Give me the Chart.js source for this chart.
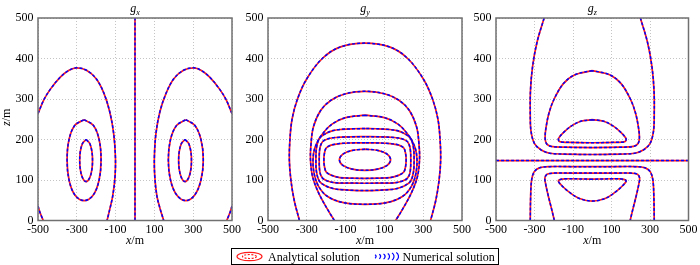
<!DOCTYPE html>
<html>
<head>
<meta charset="utf-8">
<script src="https://cdn.jsdelivr.net/npm/chart.js@4.4.0/dist/chart.umd.min.js"></script>
<style>
  html, body { margin: 0; padding: 0; background: #fff; }
  #wrap { position: relative; width: 700px; height: 265px; }
  #wrap canvas { position: absolute; left: 0; top: 0; }
</style>
</head>
<body>
<div id="wrap">
  <canvas id="chart_gx" width="700" height="265"></canvas>
  <canvas id="chart_gy" width="700" height="265"></canvas>
  <canvas id="chart_gz" width="700" height="265"></canvas>
</div>
<script>
// tick values and labels
var xTicks = [-500, -300, -100, 100, 300, 500];
var zTicks = [0, 100, 200, 300, 400, 500];
var panelSubs = ['x', 'y', 'z'];
var legendLabels = ['Analytical solution', 'Numerical solution'];

// gx contours, [x, z]
var gxCenterLine = [[0, 0], [0, 500]];
var gxLeftOuter = [[-500, 264], [-470, 298], [-435, 325], [-385, 354], [-340, 371], [-300, 377], [-250, 371], [-200, 350], [-160, 314], [-130, 268], [-110, 215], [-101, 157], [-103, 108], [-115, 60], [-130, 28], [-144, 0]];
var gxLeftMiddle = [[-262, 249], [-215, 235], [-185, 200], [-175, 150], [-185, 100], [-215, 63], [-262, 49], [-310, 63], [-340, 100], [-350, 150], [-340, 200], [-310, 235], [-262, 249]];
var gxLeftInner = [[-252, 200], [-233, 190], [-222, 170], [-219, 148], [-222, 126], [-233, 106], [-252, 96], [-271, 106], [-282, 126], [-285, 148], [-282, 170], [-271, 190], [-252, 200]];
var gxRightOuter = [[500, 264], [470, 298], [435, 325], [385, 354], [340, 371], [303, 377], [250, 371], [200, 350], [160, 314], [128, 268], [108, 215], [100, 157], [102, 108], [113, 60], [130, 28], [148, 0]];
var gxRightMiddle = [[262, 249], [308, 235], [340, 200], [352, 150], [340, 100], [308, 63], [262, 49], [215, 63], [183, 100], [172, 150], [183, 200], [215, 235], [262, 249]];
var gxRightInner = [[258, 200], [277, 190], [288, 170], [291, 148], [288, 126], [277, 106], [258, 96], [239, 106], [228, 126], [225, 148], [228, 170], [239, 190], [258, 200]];
var gxCornerLeft = [[-500, 36], [-490, 20], [-478, 6], [-473, 0]];
var gxCornerRight = [[500, 36], [490, 20], [478, 6], [473, 0]];

// gy contours
var gyOuter = [[-338, 0], [-365, 50], [-382, 100], [-390, 150], [-387, 200], [-376, 250], [-348, 300], [-300, 350], [-220, 400], [-130, 428], [0, 438], [130, 428], [220, 400], [300, 350], [348, 300], [376, 250], [387, 200], [390, 150], [382, 100], [365, 50], [338, 0]];
var gySecond = [[-158, 0], [-190, 25], [-238, 67], [-270, 108], [-281, 150], [-278, 190], [-266, 231], [-228, 272], [-175, 297], [-100, 313], [0, 319], [100, 313], [175, 297], [228, 272], [266, 231], [278, 190], [281, 150], [270, 108], [238, 67], [190, 25], [158, 0]];
var gyRingE = [[0, 260], [-100, 254], [-170, 238], [-225, 210], [-258, 180], [-268, 150], [-262, 115], [-240, 85], [-195, 60], [-110, 44], [0, 40], [110, 44], [195, 60], [240, 85], [262, 115], [268, 150], [258, 180], [225, 210], [170, 238], [100, 254], [0, 260]];
var gyRingD = [[0, 227], [-60, 226.5], [-120, 225], [-165, 222], [-205, 214], [-235, 203], [-250, 180], [-253, 150], [-250, 120], [-235, 97], [-205, 86], [-165, 79], [-120, 76], [-60, 74.5], [0, 74], [60, 74.5], [120, 76], [165, 79], [205, 86], [235, 97], [250, 120], [253, 150], [250, 180], [235, 203], [205, 214], [165, 222], [120, 225], [60, 226.5], [0, 227]];
var gyRingC = [[0, 207], [-75, 206.5], [-150, 205], [-190, 202], [-218, 195], [-232, 180], [-236, 150], [-232, 118], [-218, 104], [-190, 97], [-150, 93], [-75, 92.5], [0, 92], [75, 92.5], [150, 93], [190, 97], [218, 104], [232, 118], [236, 150], [232, 180], [218, 195], [190, 202], [150, 205], [75, 206.5], [0, 207]];
var gyRingB = [[0, 192], [-65, 191.5], [-130, 190], [-175, 186], [-200, 179], [-209, 166], [-212, 150], [-209, 133], [-200, 120], [-175, 112], [-130, 106], [-65, 104.5], [0, 104], [65, 104.5], [130, 106], [175, 112], [200, 120], [209, 133], [212, 150], [209, 166], [200, 179], [175, 186], [130, 190], [65, 191.5], [0, 192]];
var gyRingA = [[0, 176], [-66, 173], [-114, 164], [-132, 150], [-114, 136], [-66, 127], [0, 124], [66, 127], [114, 136], [132, 150], [114, 164], [66, 173], [0, 176]];

// gz contours
var gzLine = [[-500, 148], [500, 148]];
var gzUpperOuter = [[-250, 500], [-287, 440], [-310, 380], [-321, 320], [-322, 260], [-318, 220], [-300, 190], [-265, 174], [-220, 166], [-150, 164], [0, 163], [150, 164], [220, 166], [265, 174], [300, 190], [318, 220], [322, 260], [321, 320], [310, 380], [287, 440], [250, 500]];
var gzUpperMiddle = [[0, 370], [-90, 360], [-150, 338], [-198, 300], [-225, 265], [-240, 230], [-245, 205], [-238, 190], [-215, 183], [-150, 181], [0, 180], [150, 181], [215, 183], [238, 190], [245, 205], [240, 230], [225, 265], [198, 300], [150, 338], [90, 360], [0, 370]];
var gzUpperInner = [[0, 249], [-60, 245], [-110, 233], [-150, 217], [-172, 205], [-176, 199], [-165, 194], [-120, 193], [0, 192], [120, 193], [165, 194], [176, 199], [172, 205], [150, 217], [110, 233], [60, 245], [0, 249]];
var gzLowerOuter = [[-322, 0], [-320, 60], [-315, 100], [-302, 120], [-275, 130], [-220, 133], [-110, 133], [0, 133], [110, 133], [220, 133], [275, 130], [302, 120], [315, 100], [320, 60], [322, 0]];
var gzLowerMiddle = [[-197, 0], [-212, 30], [-228, 60], [-242, 90], [-246, 105], [-235, 114], [-200, 117], [-100, 117], [0, 117], [100, 117], [200, 117], [235, 114], [246, 105], [242, 90], [228, 60], [212, 30], [197, 0]];
var gzLowerInner = [[0, 102], [-140, 103], [-168, 101], [-176, 97], [-160, 87], [-125, 72], [-70, 55], [0, 48], [70, 55], [125, 72], [160, 87], [176, 97], [168, 101], [140, 103], [0, 102]];

var gxContours = [gxCenterLine, gxLeftOuter, gxLeftMiddle, gxLeftInner, gxRightOuter, gxRightMiddle, gxRightInner, gxCornerLeft, gxCornerRight];
var gyContours = [gyOuter, gySecond, gyRingE, gyRingD, gyRingC, gyRingB, gyRingA];
var gzContours = [gzLine, gzUpperOuter, gzUpperMiddle, gzUpperInner, gzLowerOuter, gzLowerMiddle, gzLowerInner];

var serif = "'Liberation Serif', 'Times New Roman', serif";
var analyticColor = '#ff1a1a';
var numericColor = '#0000ff';

function toPoints(arr) {
    return arr.map(function (p) { return { x: p[0], y: p[1] }; });
}

// first dataset is drawn on top, so the blue dashes go first
function contourSets(contours) {
    var sets = [];
    contours.forEach(function (c) {
        sets.push({ label: legendLabels[1], data: toPoints(c), borderColor: numericColor, borderWidth: 1.5,
            borderDash: [3, 2], showLine: true, pointRadius: 0, tension: 0.35, fill: false });
    });
    contours.forEach(function (c) {
        sets.push({ label: legendLabels[0], data: toPoints(c), borderColor: analyticColor, borderWidth: 1.7,
            showLine: true, pointRadius: 0, tension: 0.35, fill: false });
    });
    return sets;
}

function drawRich(ctx, runs, cx, cy) {
    var total = 0;
    runs.forEach(function (r) { ctx.font = r.font; r.w = ctx.measureText(r.text).width; total += r.w; });
    var x = cx - total / 2;
    ctx.textAlign = 'left';
    ctx.textBaseline = 'alphabetic';
    runs.forEach(function (r) { ctx.font = r.font; ctx.fillText(r.text, x, cy + (r.dy || 0)); x += r.w; });
}

function framePlugin(sub, withZLabel) {
    return {
        id: 'frame',
        afterDatasetsDraw: function (chart) {
            var ctx = chart.ctx, a = chart.chartArea;
            ctx.save();
            ctx.strokeStyle = '#707070';
            ctx.lineWidth = 1.5;
            ctx.strokeRect(a.left, a.top, a.right - a.left, a.bottom - a.top);
            ctx.fillStyle = '#000';
            var cx = (a.left + a.right) / 2;
            drawRich(ctx, [{ text: 'g', font: 'italic 12px ' + serif }, { text: sub, font: 'italic 8px ' + serif, dy: 2.5 }], cx, 12);
            drawRich(ctx, [{ text: 'x', font: 'italic 12px ' + serif }, { text: '/m', font: '12px ' + serif }], cx, 243.5);
            if (withZLabel) {
                ctx.translate(9.5, (a.top + a.bottom) / 2 - 2);
                ctx.rotate(-Math.PI / 2);
                drawRich(ctx, [{ text: 'z', font: 'italic 12px ' + serif }, { text: '/m', font: '12px ' + serif }], 0, 0);
            }
            ctx.restore();
        }
    };
}

var legendPlugin = {
    id: 'contourLegend',
    afterDraw: function (chart) {
        var ctx = chart.ctx;
        ctx.save();
        ctx.strokeStyle = '#000';
        ctx.lineWidth = 1;
        ctx.strokeRect(231.5, 248.5, 267, 16);
        // red icon: small nested ellipses
        ctx.strokeStyle = analyticColor;
        ctx.lineWidth = 1.2;
        ctx.beginPath(); ctx.ellipse(249.5, 256.5, 12.5, 4.2, 0, 0, Math.PI * 2); ctx.stroke();
        ctx.setLineDash([2, 1.5]);
        ctx.beginPath(); ctx.ellipse(249.5, 256.5, 7, 2, 0, 0, Math.PI * 2); ctx.stroke();
        ctx.setLineDash([]);
        // blue icon: row of arcs
        ctx.strokeStyle = numericColor;
        for (var i = 0; i < 6; i++) {
            ctx.beginPath();
            ctx.arc(374 + i * 4, 256.5, 2 + i * 0.5, -Math.PI / 3, Math.PI / 3);
            ctx.stroke();
        }
        ctx.fillStyle = '#000';
        ctx.font = '12px ' + serif;
        ctx.textAlign = 'left';
        ctx.textBaseline = 'alphabetic';
        ctx.fillText(legendLabels[0], 268, 260.5);
        ctx.fillText(legendLabels[1], 402.5, 260.5);
        ctx.restore();
    }
};

function makePanel(id, contours, sub, left, right, extra) {
    return new Chart(document.getElementById(id), {
        type: 'scatter',
        data: { datasets: contourSets(contours) },
        options: {
            animation: false,
            responsive: false,
            devicePixelRatio: 1,
            layout: { padding: { left: left - 38, right: 700 - right, top: 18, bottom: 0 } },
            plugins: { legend: { display: false }, tooltip: { enabled: false } },
            scales: {
                x: {
                    type: 'linear', min: -500, max: 500,
                    afterBuildTicks: function (s) { s.ticks = xTicks.map(function (v) { return { value: v }; }); },
                    afterFit: function (s) { s.height = 44.5; },
                    grid: { color: '#c4c4c4', lineWidth: 1, drawTicks: false },
                    border: { display: false, dash: [1, 2] },
                    ticks: { color: '#000', font: { family: serif, size: 12 }, padding: 2.5, maxRotation: 0, autoSkip: false }
                },
                y: {
                    type: 'linear', min: 0, max: 500,
                    afterBuildTicks: function (s) { s.ticks = zTicks.map(function (v) { return { value: v }; }); },
                    afterFit: function (s) { s.width = 38; },
                    grid: { color: '#c4c4c4', lineWidth: 1, drawTicks: false },
                    border: { display: false, dash: [1, 2] },
                    ticks: { color: '#000', font: { family: serif, size: 12 }, padding: 4.5, autoSkip: false }
                }
            }
        },
        plugins: [framePlugin(sub, id === 'chart_gx')].concat(extra || [])
    });
}

var chart_gx = makePanel('chart_gx', gxContours, panelSubs[0], 38, 232);
var chart_gy = makePanel('chart_gy', gyContours, panelSubs[1], 268, 462, [legendPlugin]);
var chart_gz = makePanel('chart_gz', gzContours, panelSubs[2], 496, 691);
</script>
</body>
</html>
